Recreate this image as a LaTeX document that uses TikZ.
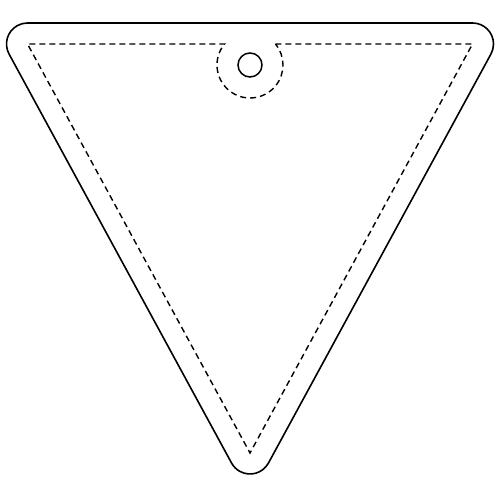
\documentclass[tikz,border=0pt]{standalone}
\usepackage{tikz}
\usetikzlibrary{calc}

\begin{document}
\begin{tikzpicture}[x=1pt, y=1pt]
        \useasboundingbox (0,0) rectangle (500,500);

        \coordinate (A) at (27.5,456);
        \coordinate (B) at (472.5,456);
        \coordinate (C) at (250,47);
        \coordinate (H) at (250,435);

        \draw[line width=1.6pt] ($(A)+(0,21)$) -- ($(B)+(0,21)$)
            arc[start angle=90, end angle=-28.55, radius=21pt]
            -- ($(C)+(-28.55:21)$)
            arc[start angle=-28.55, end angle=-151.45, radius=21pt]
            -- ($(A)+(208.55:21)$)
            arc[start angle=208.55, end angle=90, radius=21pt] -- cycle;

        \draw[line width=1.4pt, dash pattern=on 6pt off 4pt]
            ($(H)+(39.5:33)$) -- (B) -- (C) -- (A) -- ($(H)+(140.5:33)$)
            arc[start angle=140.5, end angle=399.5, radius=33pt];

        \draw[line width=1.5pt] (H) circle[radius=12pt];
    \end{tikzpicture}
\end{document}
